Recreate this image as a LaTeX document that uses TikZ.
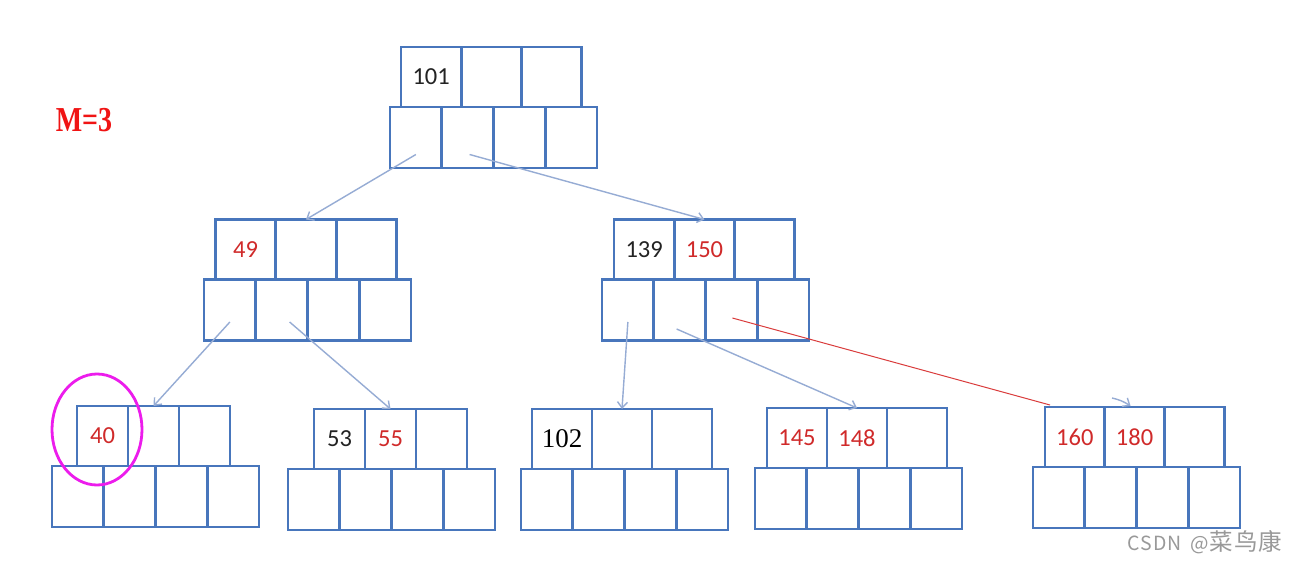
\documentclass[tikz,border=0pt]{standalone}
\usepackage{fontspec}
\setmainfont{Carlito}
\newfontfamily\numserif{Liberation Serif}
\newfontfamily\cjk{Noto Sans CJK SC}
\usetikzlibrary{arrows.meta}
\usetikzlibrary{calc}
\usetikzlibrary{positioning}
\definecolor{cellblue}{RGB}{72,118,188}
\definecolor{keyred}{RGB}{208,42,42}
\definecolor{darktext}{RGB}{35,35,35}
\definecolor{linkblue}{RGB}{150,172,212}
\definecolor{linkred}{RGB}{218,60,60}
\definecolor{markpink}{RGB}{236,28,236}
\definecolor{orderred}{RGB}{240,20,20}
\tikzset{
    cell/.style={
        draw=cellblue,
        line width=2.9pt,
        inner sep=0,
        outer sep=0,
    },
    key cell/.style={
        cell,
        minimum height=60pt,
        text=keyred,
        font=\fontsize{24.5}{24.5}\selectfont,
    },
    pointer cell/.style={
        cell,
        minimum height=61pt,
        minimum width=51.75pt,
    },
    child link/.style={
        draw=linkblue,
        line width=1.4pt,
        -{Straight Barb[length=6pt,width=10pt]},
    },
    split link/.style={
        draw=linkred,
        line width=1pt,
    },
    chosen key/.style={
        draw=markpink,
        line width=2.8pt,
    },
}

\begin{document}
\begin{tikzpicture}[x=1pt, y=-1pt]

    \fill[white] (0,0) rectangle (1290,567);
    \useasboundingbox (0,0) rectangle (1290,567);

    % #1 name, (#2,#3) top left of the keys, #4 key width, #5 left of the pointers
    \newcommand\treenode[7]{
        \node[key cell, minimum width=#4, anchor=north west] (#1k1) at (#2,#3) {#6};
        \node[key cell, minimum width=#4, right=0pt of #1k1] (#1k2) {#7};
        \node[key cell, minimum width=#4, right=0pt of #1k2] (#1k3) {};
        \node[pointer cell, anchor=north west] (#1p1) at (#5,#3+60) {};
        \foreach \i [count=\j from 2] in {1,2,3}
        {
            \node[pointer cell, right=0pt of #1p\i] (#1p\j) {};
        }
    }

    \treenode{root}{401}{47}{60.3}{390}{\textcolor{darktext}{101}\hspace{5pt}}{}
    \treenode{L}{215.5}{219.5}{60.3}{204}{49}{}
    \treenode{R}{614}{219.5}{60.3}{602}{\textcolor{darktext}{139}}{150}
    \treenode{A}{77}{406}{51}{52}{40\hspace{3pt}}{}
    \treenode{B}{314}{409}{51}{288}{\textcolor{darktext}{53}}{55}
    \treenode{C}{532}{409}{60}{521}{\numserif\fontsize{27}{27}\selectfont\textcolor{black}{102}\hspace{6pt}}{}
    \treenode{D}{767}{408}{60}{755}{145}{148}
    \treenode{E}{1045}{407}{59.7}{1033}{160}{180}

    \draw[child link] ($(rootp1.center)+(0,17)$) -- (Lk2.north);
    \draw[child link] ($(rootp2.center)+(2,17)$) -- (Rk2.north);
    \draw[child link] ($(Lp1.center)+(0,12)$) -- (Ak2.north);
    \draw[child link] ($(Lp2.center)+(8,12)$) -- (Bk2.north);
    \draw[child link] ($(Rp1.center)+(0,12)$) -- (Ck2.north);
    \draw[child link] ($(Rp2.center)+(-3,19)$) -- (Dk2.north);
    \draw[split link] ($(Rp3.center)+(1,8)$) -- ($(Ek1.north west)+(5,-2)$);
    \coordinate (stub) at (1112,398);
    \draw[child link] (stub) to[bend left=10] ($(Ek2.north)+(-4,-1)$);

    \draw[chosen key] (97,429.5) ellipse [x radius=45, y radius=55.5];

    \node[text=orderred, font=\numserif\fontsize{35}{35}\selectfont\bfseries] (order) at (84,120) {\scalebox{0.8}[1]{M=3}};
    \node[anchor=base east, text=black!40, font=\cjk] (mark) at (1286,550)
        {\fontsize{19.5}{19.5}\selectfont\addfontfeatures{LetterSpace=6}CSDN\hspace{9pt}@\fontsize{23.5}{23.5}\selectfont 菜鸟康};

\end{tikzpicture}
\end{document}
